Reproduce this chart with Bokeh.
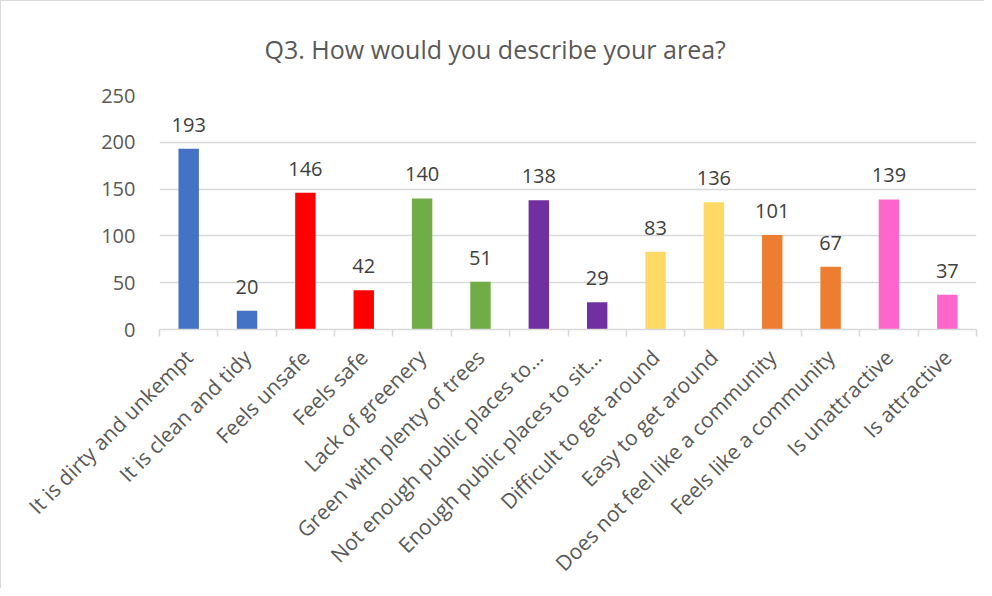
import numpy as np
from bokeh.plotting import figure
from bokeh.models import Range1d, FixedTicker, ColumnDataSource, Title
from bokeh.core.properties import value
from bokeh.embed import file_html
from bokeh.resources import INLINE

title_text = "Q3. How would you describe your area?"
categories = [
    "It is dirty and unkempt",
    "It is clean and tidy",
    "Feels unsafe",
    "Feels safe",
    "Lack of greenery",
    "Green with plenty of trees",
    "Not enough public places to…",
    "Enough public places to sit…",
    "Difficult to get around",
    "Easy to get around",
    "Does not feel like a community",
    "Feels like a community",
    "Is unattractive",
    "Is attractive",
]
counts = [193, 20, 146, 42, 140, 51, 138, 29, 83, 136, 101, 67, 139, 37]
bar_colors = [
    "#4472C4", "#4472C4",
    "#FF0000", "#FF0000",
    "#70AD47", "#70AD47",
    "#7030A0", "#7030A0",
    "#FFD966", "#FFD966",
    "#ED7D31", "#ED7D31",
    "#FF66CC", "#FF66CC",
]
y_ticks = [0, 50, 100, 150, 200, 250]

FONT = "Open Sans"
GREY = "#595959"
LIGHT = "#d9d9d9"

n = len(categories)
xs = np.arange(n)

src = ColumnDataSource(dict(
    x=xs, top=counts, color=bar_colors, label=[str(c) for c in counts],
))

p = figure(
    width=984, height=588,
    x_range=Range1d(-0.5, n - 0.5),
    y_range=Range1d(y_ticks[0], y_ticks[-1]),
    output_backend="svg", toolbar_location=None,
    min_border_left=158, min_border_right=9,
    min_border_top=94, min_border_bottom=257,
)
p.styles = {"border-top": "1px solid #d9d9d9", "border-left": "1px solid #d9d9d9"}

p.outline_line_color = None
p.background_fill_color = "white"
p.border_fill_color = "white"

t = Title(
    text=title_text, align="left", offset=105, vertical_align="top", standoff=55,
    text_font=FONT, text_font_size="25px", text_font_style="normal", text_color=GREY,
)
p.add_layout(t, "above")

p.vbar(x="x", top="top", width=0.35, color="color", line_color=None, source=src)
p.text(x="x", y="top", text="label", source=src,
       text_align="center", text_baseline="alphabetic", y_offset=-24,
       text_font=value(FONT), text_font_size="20px", text_color="#404040")

# y axis
p.yaxis.ticker = FixedTicker(ticks=y_ticks)
p.yaxis.axis_line_color = None
p.yaxis.major_tick_line_color = None
p.yaxis.minor_tick_line_color = None
p.yaxis.major_label_text_font = FONT
p.yaxis.major_label_text_font_size = "20px"
p.yaxis.major_label_text_color = GREY
p.yaxis.major_label_standoff = 18

p.ygrid.ticker = FixedTicker(ticks=y_ticks)
p.ygrid.grid_line_color = LIGHT
p.ygrid.grid_line_width = 1.5
p.xgrid.grid_line_color = None

# x axis
p.xaxis.ticker = FixedTicker(ticks=list(xs), minor_ticks=list(np.arange(n + 1) - 0.5))
p.xaxis.major_label_overrides = {int(i): c for i, c in zip(xs, categories)}
p.xaxis.major_label_orientation = np.pi / 4
p.xaxis.major_label_text_font = FONT
p.xaxis.major_label_text_font_size = "21px"
p.xaxis.major_label_text_color = GREY
p.xaxis.major_label_standoff = 17
p.xaxis.major_tick_line_color = None
p.xaxis.minor_tick_line_color = LIGHT
p.xaxis.minor_tick_line_width = 1.5
p.xaxis.minor_tick_in = 0
p.xaxis.minor_tick_out = 7
p.xaxis.axis_line_color = LIGHT
p.xaxis.axis_line_width = 1.5

open("out.html", "w").write(file_html(p, INLINE))
